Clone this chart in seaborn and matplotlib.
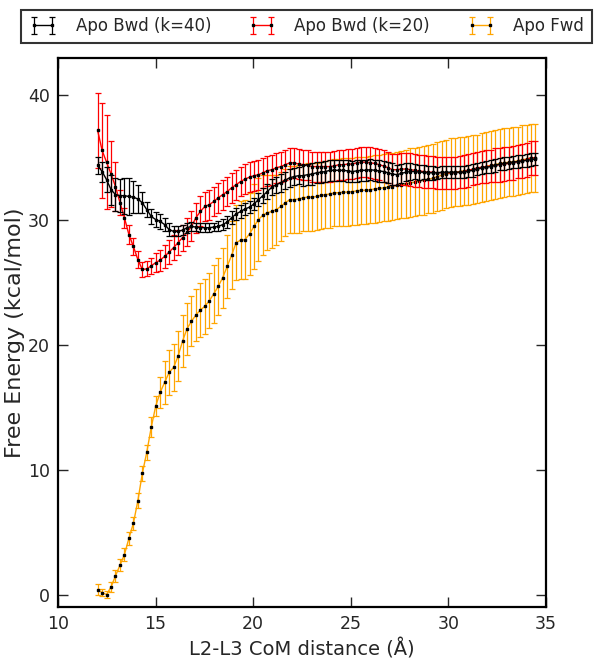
import numpy as np
import seaborn as sns
import matplotlib.pyplot as plt

# reaction coordinate (L2-L3 CoM distance), evenly spaced windows
distance = np.linspace(12.03, 34.46, 99)

bwd40_energy = [
    34.4, 33.9, 33.25, 32.45, 32.05, 31.97, 31.97, 31.9, 31.85, 31.7,
    31.4, 30.85, 30.3, 30.05, 29.9, 29.65, 29.25, 29.1, 29.1, 29.2,
    29.4, 29.5, 29.45, 29.4, 29.4, 29.4, 29.45, 29.5, 29.65, 29.85,
    30.2, 30.5, 30.7, 30.9, 31.05, 31.3, 31.65, 31.97, 32.3, 32.65,
    32.85, 33.0, 33.2, 33.4, 33.5, 33.57, 33.57, 33.65, 33.7, 33.8,
    33.85, 33.9, 34.0, 34.0, 34.0, 34.0, 33.95, 33.9, 33.95, 34.0,
    34.0, 34.05, 34.0, 33.95, 33.9, 33.8, 33.7, 33.65, 33.75, 33.85,
    33.9, 33.9, 33.85, 33.85, 33.8, 33.8, 33.8, 33.85, 33.85, 33.85,
    33.85, 33.85, 33.85, 33.95, 34.0, 34.1, 34.2, 34.25, 34.3, 34.4,
    34.5, 34.55, 34.6, 34.65, 34.7, 34.75, 34.8, 34.85, 34.9,
]
bwd40_err = [
    0.7, 0.8, 1.0, 1.2, 1.3, 1.35, 1.45, 1.5, 1.3, 1.1,
    0.85, 0.6, 0.6, 0.6, 0.6, 0.55, 0.5, 0.4, 0.4, 0.4,
    0.4, 0.35, 0.35, 0.35, 0.35, 0.35, 0.35, 0.4, 0.45, 0.5,
    0.5, 0.5, 0.5, 0.5, 0.5, 0.5, 0.55, 0.6, 0.6, 0.65,
    0.65, 0.7, 0.7, 0.7, 0.7, 0.7, 0.85, 0.85, 0.85, 0.85,
    0.85, 0.85, 0.85, 0.85, 0.85, 0.85, 0.85, 0.85, 0.85, 0.85,
    0.85, 0.85, 0.85, 0.85, 0.85, 0.85, 0.85, 0.8, 0.75, 0.7,
    0.65, 0.6, 0.6, 0.55, 0.55, 0.55, 0.5, 0.5, 0.5, 0.5,
    0.5, 0.5, 0.5, 0.5, 0.5, 0.5, 0.5, 0.5, 0.5, 0.5,
    0.5, 0.5, 0.5, 0.5, 0.5, 0.5, 0.5, 0.5, 0.5,
]

bwd20_energy = [
    37.2, 35.6, 34.65, 33.7, 32.7, 31.4, 30.2, 28.85, 27.9, 26.85,
    26.05, 26.1, 26.35, 26.6, 26.8, 27.1, 27.45, 27.8, 28.2, 28.6,
    29.05, 29.5, 30.2, 30.7, 31.1, 31.25, 31.5, 31.8, 32.05, 32.3,
    32.6, 32.85, 33.1, 33.3, 33.45, 33.57, 33.65, 33.8, 33.97, 34.05,
    34.2, 34.3, 34.45, 34.6, 34.6, 34.5, 34.45, 34.4, 34.3, 34.3,
    34.3, 34.3, 34.3, 34.35, 34.45, 34.45, 34.5, 34.5, 34.6, 34.65,
    34.65, 34.6, 34.55, 34.45, 34.35, 34.2, 34.05, 34.05, 34.1, 34.1,
    34.05, 34.0, 33.95, 33.9, 33.85, 33.85, 33.8, 33.8, 33.8, 33.8,
    33.8, 33.85, 33.9, 34.0, 34.1, 34.2, 34.25, 34.3, 34.35, 34.4,
    34.45, 34.5, 34.55, 34.6, 34.7, 34.75, 34.85, 35.0, 35.0,
]
bwd20_err = [
    3.0, 3.8, 3.75, 2.65, 2.0, 1.0, 0.8, 0.75, 0.7, 0.65,
    0.6, 0.6, 0.65, 0.75, 0.85, 0.9, 1.0, 1.0, 1.0, 1.05,
    1.1, 1.2, 1.2, 1.2, 1.2, 1.2, 1.2, 1.2, 1.2, 1.2,
    1.2, 1.2, 1.2, 1.2, 1.2, 1.2, 1.2, 1.2, 1.2, 1.2,
    1.2, 1.2, 1.2, 1.2, 1.2, 1.2, 1.2, 1.2, 1.2, 1.2,
    1.2, 1.2, 1.2, 1.2, 1.2, 1.2, 1.2, 1.2, 1.2, 1.2,
    1.2, 1.25, 1.25, 1.25, 1.25, 1.25, 1.25, 1.25, 1.25, 1.3,
    1.3, 1.3, 1.3, 1.3, 1.3, 1.3, 1.3, 1.3, 1.3, 1.3,
    1.3, 1.3, 1.3, 1.3, 1.3, 1.3, 1.3, 1.3, 1.3, 1.35,
    1.35, 1.35, 1.35, 1.35, 1.35, 1.35, 1.35, 1.35, 1.35,
]

fwd_energy = [
    0.4, 0.15, 0.0, 0.6, 1.5, 2.35, 3.2, 4.5, 5.7, 7.5,
    9.7, 11.4, 13.4, 15.1, 16.2, 17.0, 17.8, 18.2, 19.1, 20.3,
    21.3, 21.9, 22.4, 22.8, 23.1, 23.55, 24.1, 24.7, 25.4, 26.3,
    27.2, 28.2, 28.4, 28.45, 28.9, 29.5, 30.05, 30.4, 30.6, 30.7,
    30.85, 31.1, 31.4, 31.65, 31.65, 31.7, 31.8, 31.85, 31.85, 31.9,
    32.0, 32.05, 32.1, 32.2, 32.2, 32.25, 32.25, 32.3, 32.35, 32.4,
    32.4, 32.45, 32.5, 32.55, 32.6, 32.65, 32.7, 32.8, 32.85, 32.9,
    33.0, 33.05, 33.15, 33.2, 33.3, 33.35, 33.5, 33.6, 33.7, 33.8,
    33.85, 33.9, 33.95, 34.0, 34.05, 34.1, 34.2, 34.3, 34.4, 34.45,
    34.55, 34.6, 34.65, 34.7, 34.75, 34.85, 34.9, 35.0, 35.0,
]
fwd_err = [
    0.45, 0.3, 0.3, 0.4, 0.5, 0.5, 0.5, 0.5, 0.5, 0.6,
    0.6, 0.6, 0.8, 0.8, 1.25, 1.7, 1.8, 1.9, 2.0, 2.1,
    2.1, 2.0, 2.1, 2.2, 2.2, 2.2, 2.3, 2.3, 2.4, 2.5,
    2.7, 3.0, 3.1, 3.2, 3.3, 3.4, 3.3, 3.2, 3.0, 2.9,
    2.8, 2.8, 2.7, 2.7, 2.7, 2.7, 2.7, 2.7, 2.7, 2.7,
    2.7, 2.7, 2.7, 2.7, 2.7, 2.7, 2.7, 2.7, 2.7, 2.7,
    2.7, 2.7, 2.7, 2.7, 2.7, 2.7, 2.7, 2.7, 2.7, 2.7,
    2.75, 2.75, 2.75, 2.75, 2.75, 2.75, 2.75, 2.75, 2.75, 2.75,
    2.75, 2.75, 2.75, 2.75, 2.75, 2.75, 2.75, 2.75, 2.75, 2.75,
    2.75, 2.75, 2.75, 2.75, 2.75, 2.75, 2.75, 2.75, 2.75,
]

labels = ["Apo Bwd (k=40)", "Apo Bwd (k=20)", "Apo Fwd"]
colors = ["black", "red", "orange"]

sns.set_style("ticks")
plt.rcParams["font.family"] = ["DejaVu Sans"]

fig = plt.figure(figsize=(6, 6.63), dpi=100)
ax = fig.add_axes([58 / 600, 1 - 607 / 663, 488 / 600, 549 / 663])

series = [
    (bwd40_energy, bwd40_err, 4),
    (bwd20_energy, bwd20_err, 3),
    (fwd_energy, fwd_err, 2),
]
handles = []
for (energy, err, z), col, lab in zip(series, colors, labels):
    h = ax.errorbar(distance, energy, yerr=err, color=col, ecolor=col,
                    elinewidth=0.9, capsize=2, capthick=0.9, lw=1,
                    marker="s", ms=1.5, mfc="black", mec="black",
                    label=lab, zorder=z)
    handles.append(h)

ax.set_xlim(10, 35)
ax.set_ylim(-1, 43)
ax.set_xticks([10, 15, 20, 25, 30, 35])
ax.set_yticks([0, 10, 20, 30, 40])
ax.tick_params(direction="in", top=True, right=True, length=7, width=1,
               labelsize=12.5, pad=6)
for s in ax.spines.values():
    s.set_linewidth(1.6)
    s.set_color("black")

ax.set_xlabel("L2-L3 CoM distance (Å)", fontsize=14, labelpad=4)
ax.set_ylabel("Free Energy (kcal/mol)", fontsize=16, labelpad=2)

leg = fig.legend(handles, labels, loc="upper center", bbox_to_anchor=(0.511, 0.998),
                 ncol=3, fontsize=12, numpoints=2, fancybox=False, frameon=True,
                 edgecolor="black", handlelength=1.7, handletextpad=1.1,
                 columnspacing=2.2, borderpad=0.45)
leg.get_frame().set_linewidth(1.5)

fig.savefig("out.png", dpi=100)
